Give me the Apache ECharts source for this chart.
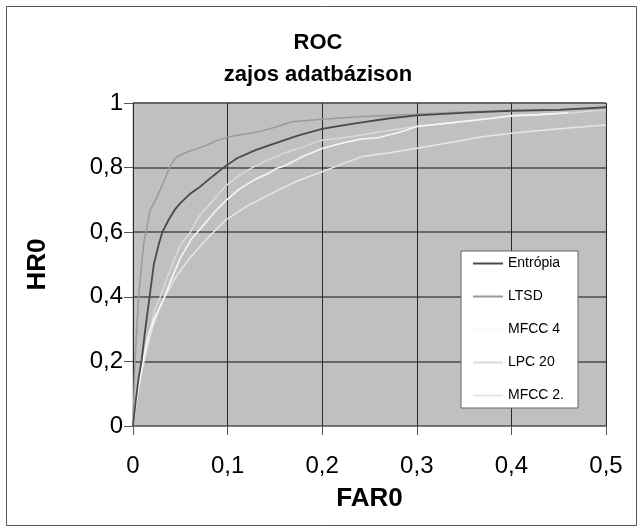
<!DOCTYPE html>
<html><head><meta charset="utf-8">
<script src="https://cdn.jsdelivr.net/npm/echarts@6/dist/echarts.min.js"></script>
<style>html,body{margin:0;padding:0;background:#fff}#c{width:642px;height:530px}</style>
</head><body><div id="c"></div>
<script>
const seriesNames = ['Entrópia', 'LTSD', 'MFCC 4', 'LPC 20', 'MFCC 2.'];
const xTicks = [0, 0.1, 0.2, 0.3, 0.4, 0.5];
const yTicks = [0, 0.2, 0.4, 0.6, 0.8, 1];

const entropia = [[0,0],[0.003,0.08],[0.006,0.15],[0.009,0.2],[0.013,0.3],[0.0175,0.4],[0.022,0.5],[0.027,0.56],[0.031,0.6],[0.038,0.64],[0.044,0.669],[0.05,0.69],[0.06,0.718],[0.071,0.741],[0.085,0.775],[0.097,0.803],[0.11,0.829],[0.13,0.855],[0.15,0.875],[0.175,0.9],[0.2,0.92],[0.22,0.93],[0.242,0.94],[0.27,0.952],[0.3,0.962],[0.353,0.97],[0.4,0.976],[0.45,0.979],[0.487,0.985],[0.5,0.987]];
const ltsd = [[0,0],[0.001,0.1],[0.002,0.2],[0.004,0.3],[0.006,0.4],[0.009,0.5],[0.012,0.58],[0.014,0.6],[0.018,0.669],[0.024,0.7],[0.03,0.74],[0.039,0.803],[0.045,0.83],[0.05,0.839],[0.058,0.849],[0.074,0.865],[0.09,0.885],[0.103,0.896],[0.133,0.911],[0.15,0.925],[0.168,0.942],[0.2,0.95],[0.242,0.958],[0.3,0.965],[0.35,0.972],[0.4,0.976],[0.45,0.979],[0.5,0.983]];
const mfcc4 = [[0,0],[0.004,0.09],[0.0106,0.2],[0.016,0.28],[0.022,0.33],[0.032,0.39],[0.04,0.45],[0.05,0.52],[0.062,0.58],[0.074,0.62],[0.087,0.665],[0.099,0.7],[0.113,0.735],[0.13,0.765],[0.145,0.785],[0.152,0.798],[0.16,0.805],[0.18,0.835],[0.2,0.859],[0.22,0.875],[0.24,0.888],[0.26,0.893],[0.283,0.91],[0.3,0.927],[0.34,0.94],[0.378,0.952],[0.4,0.96],[0.43,0.964],[0.46,0.97]];
const lpc20 = [[0,0],[0.004,0.08],[0.008,0.16],[0.012,0.22],[0.017,0.28],[0.023,0.36],[0.029,0.4],[0.036,0.46],[0.043,0.51],[0.05,0.56],[0.055,0.578],[0.06,0.597],[0.07,0.65],[0.085,0.7],[0.099,0.746],[0.112,0.775],[0.126,0.8],[0.14,0.82],[0.16,0.845],[0.18,0.865],[0.2,0.885],[0.22,0.892],[0.24,0.9],[0.27,0.915],[0.3,0.927],[0.34,0.94],[0.378,0.953],[0.4,0.961],[0.43,0.965],[0.46,0.968],[0.5,0.98]];
const mfcc2 = [[0,0],[0.005,0.1],[0.01,0.18],[0.02,0.3],[0.03,0.38],[0.045,0.46],[0.06,0.52],[0.08,0.585],[0.099,0.64],[0.12,0.68],[0.154,0.731],[0.175,0.76],[0.2,0.787],[0.22,0.81],[0.242,0.834],[0.27,0.845],[0.3,0.86],[0.34,0.88],[0.367,0.895],[0.4,0.906],[0.45,0.92],[0.5,0.932]];

const seriesData = [entropia, ltsd, mfcc4, lpc20, mfcc2];
const colors = ['#4a4a4a', '#9a9a9a', '#f6f6f6', '#dadada', '#e6e6e6'];
const widths = [1.8, 1.5, 1.6, 1.5, 1.5];

const chart = echarts.init(document.getElementById('c'), null, {renderer: 'canvas'});
const fmt = v => String(v).replace('.', ',');
chart.setOption({
  animation: false,
  backgroundColor: '#ffffff',
  title: {
    text: 'ROC\nzajos adatbázison',
    left: 313, top: 22, textAlign: 'center',
    textStyle: {fontFamily: 'Liberation Sans', fontSize: 22, fontWeight: 'bold', color: '#000', lineHeight: 32}
  },
  graphic: [{
    type: 'rect', shape: {x: 6.5, y: 6.5, width: 630, height: 519},
    style: {fill: 'none', stroke: '#555', lineWidth: 1}, z: -1
  }],
  legend: {
    data: seriesNames,
    orient: 'vertical', left: 461, top: 251,
    backgroundColor: '#ffffff', borderColor: '#666', borderWidth: 1,
    padding: [5, 14, 5, 12],
    icon: 'rect',
    itemWidth: 30, itemHeight: 2, itemGap: 18,
    textStyle: {fontFamily: 'Liberation Sans', fontSize: 14, color: '#000', lineHeight: 15}
  },
  grid: {left: 133, right: 36, top: 103, bottom: 104, show: true, backgroundColor: '#c0c0c0', borderColor: '#a8a8a8', borderWidth: 1},
  xAxis: {
    type: 'value', min: 0, max: 0.5, interval: 0.1,
    name: 'FAR0', nameLocation: 'middle', nameGap: 60,
    nameTextStyle: {fontFamily: 'Liberation Sans', fontSize: 26, fontWeight: 'bold', color: '#000'},
    axisLine: {show: true, onZero: false, lineStyle: {color: '#808080', width: 1}},
    axisTick: {show: true, length: 9, lineStyle: {color: '#555'}},
    axisLabel: {margin: 28, fontFamily: 'Liberation Sans', fontSize: 24, color: '#000', formatter: v => fmt(+v.toFixed(1))},
    splitLine: {show: true, lineStyle: {color: '#2a2a2a', width: 1}}
  },
  yAxis: {
    type: 'value', min: 0, max: 1, interval: 0.2,
    name: 'HR0', nameLocation: 'middle', nameGap: 82, nameRotate: 90,
    nameTextStyle: {fontFamily: 'Liberation Sans', fontSize: 26, fontWeight: 'bold', color: '#000'},
    axisLine: {show: true, onZero: false, lineStyle: {color: '#2a2a2a', width: 1}},
    axisTick: {show: true, length: 9, lineStyle: {color: '#555'}},
    axisLabel: {margin: 10, fontFamily: 'Liberation Sans', fontSize: 24, color: '#000', formatter: v => fmt(+v.toFixed(1))},
    splitLine: {show: true, lineStyle: {color: '#4a4a4a', width: 1.6}}
  },
  series: seriesNames.map((n, i) => ({
    name: n, type: 'line', data: seriesData[i], symbol: 'none',
    lineStyle: {color: colors[i], width: widths[i]}, itemStyle: {color: colors[i]},
    z: 10 - i
  }))
});
</script></body></html>
